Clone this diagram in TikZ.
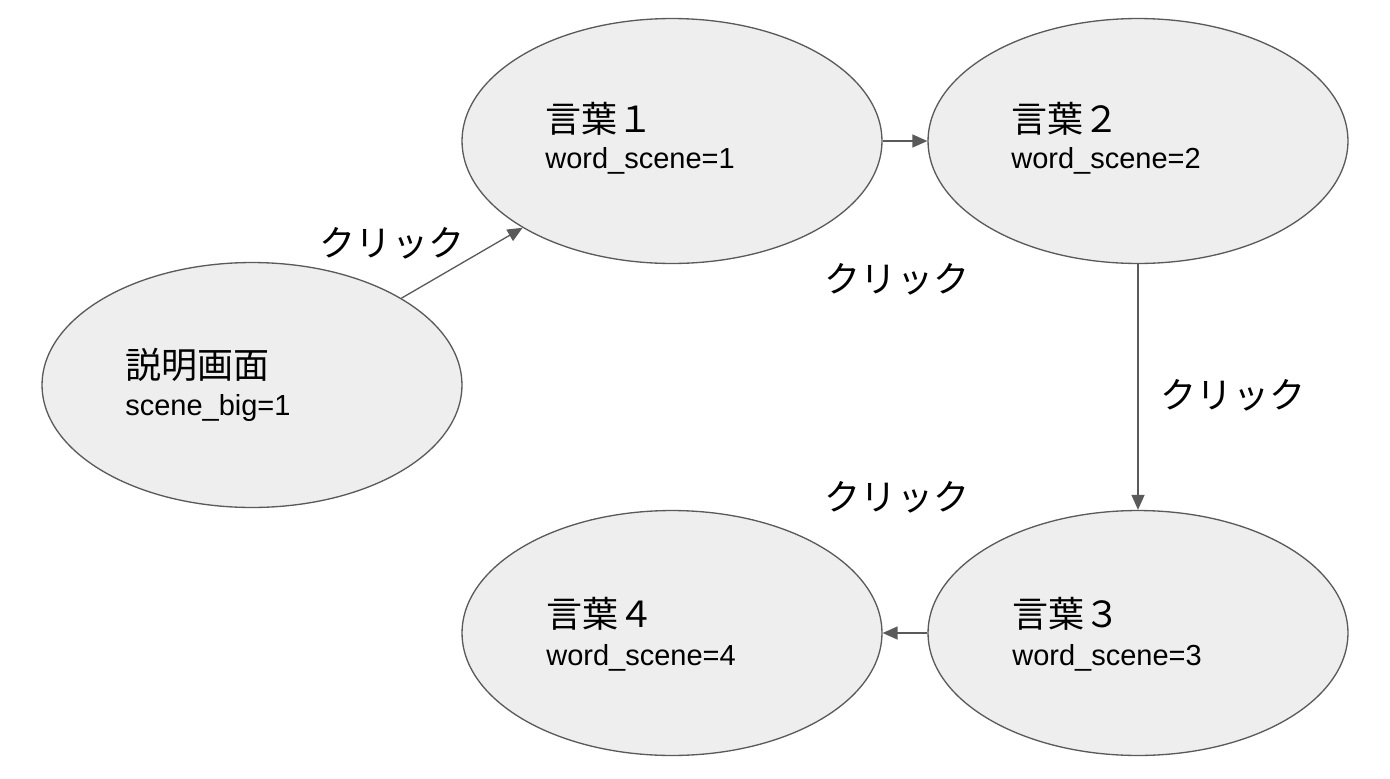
\documentclass[tikz,border=0pt]{standalone}
\usepackage{fontspec}
\setmainfont{Liberation Sans}
\newfontfamily\jp{Noto Sans CJK JP}
\usepackage{xcolor}
\usepackage{tikz}
\usetikzlibrary{calc}
\usetikzlibrary{arrows.meta}
\usetikzlibrary{shapes.geometric}
\definecolor{edgegray}{HTML}{5A5A5A}
\definecolor{bubble}{HTML}{EEEEEE}

\begin{document}
\begin{tikzpicture}[x=0.02cm,y=-0.02cm,
  scene/.style={ellipse,draw=edgegray,fill=bubble,line width=0.75pt,
    minimum width=8.4cm,minimum height=4.9cm,inner sep=0pt},
  ttl/.style={anchor=base west,inner sep=0pt,font=\jp\fontsize{20.5}{23}\selectfont},
  sub/.style={anchor=base west,inner sep=0pt,font=\fontsize{16.5}{18}\selectfont},
  clk/.style={inner sep=0pt,font=\jp\fontsize{20.5}{23}\selectfont},
  flow/.style={draw=edgegray,line width=0.75pt,-{Triangle[length=0.3cm,width=0.26cm]}}]
\useasboundingbox (0,0) rectangle (1390,778);

% scenes
\node[scene] (intro) at (252,385) {};
\node[scene] (w1) at (672,141) {};
\node[scene] (w2) at (1138,141) {};
\node[scene] (w3) at (1138,633) {};
\node[scene] (w4) at (672,633) {};

% texts inside
\node[ttl] (intro-t) at ($(intro.center)+(-127,-7)$) {説明画面};
\node[sub] (intro-s) at ($(intro.center)+(-127,30)$) {scene\_big=1};
\node[ttl] (w1-t) at ($(w1.center)+(-127,-9)$) {言葉１};
\node[sub] (w1-s) at ($(w1.center)+(-127,27)$) {word\_scene=1};
\node[ttl] (w2-t) at ($(w2.center)+(-127,-9)$) {言葉２};
\node[sub] (w2-s) at ($(w2.center)+(-127,27)$) {word\_scene=2};
\node[ttl] (w3-t) at ($(w3.center)+(-126,-6)$) {言葉３};
\node[sub] (w3-s) at ($(w3.center)+(-126,32)$) {word\_scene=3};
\node[ttl] (w4-t) at ($(w4.center)+(-126,-6)$) {言葉４};
\node[sub] (w4-s) at ($(w4.center)+(-126,32)$) {word\_scene=4};

% transitions
\draw[flow] (intro) -- (w1);
\draw[flow] (w1) -- (w2);
\draw[flow] (w2) -- (w3);
\draw[flow] (w3) -- (w4);

\node[clk] (c1) at (392,243) {クリック};
\node[clk] (c2) at (897,279) {クリック};
\node[clk] (c3) at (1233,395) {クリック};
\node[clk] (c4) at (897,497) {クリック};

\end{tikzpicture}
\end{document}
